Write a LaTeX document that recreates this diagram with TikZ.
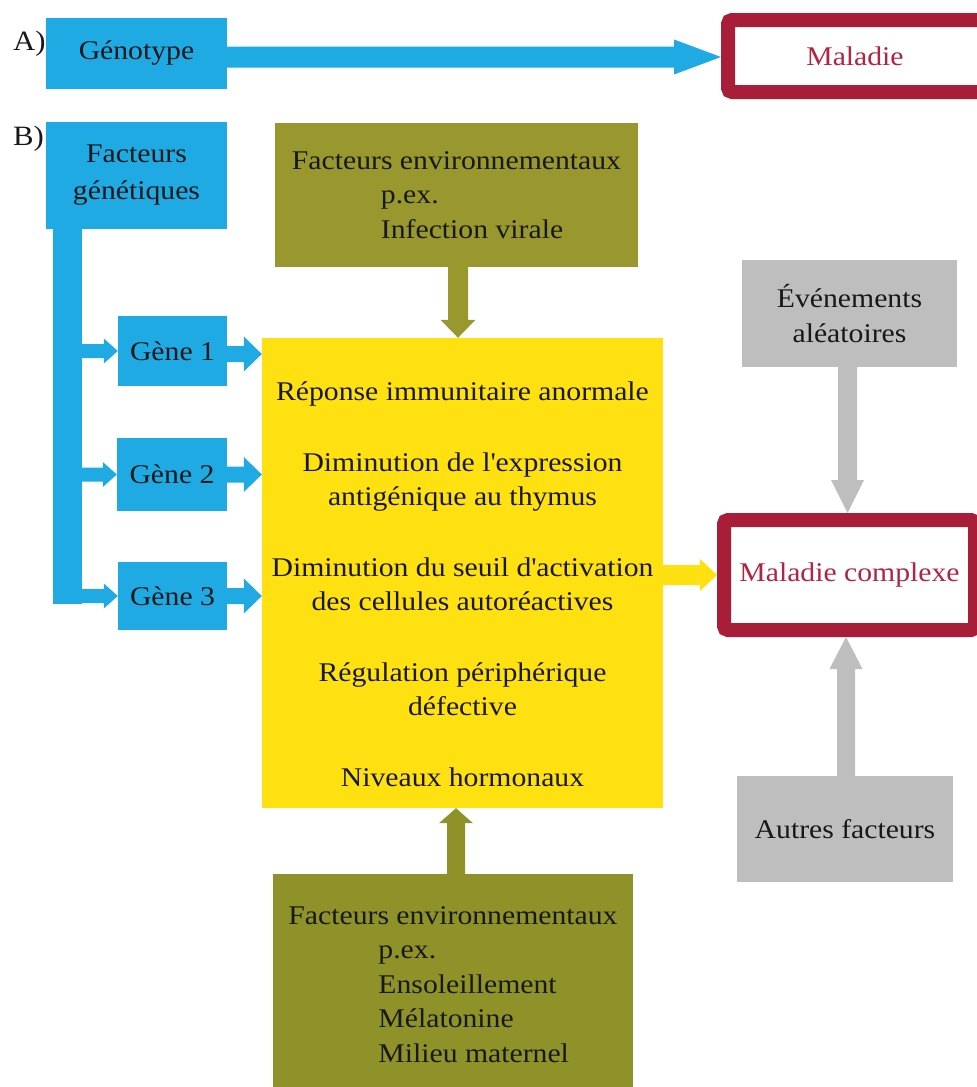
\documentclass[tikz,border=0pt]{standalone}
\usepackage{fontspec}
\setmainfont{Liberation Serif}[FakeStretch=1.1]
\usetikzlibrary{calc}
\definecolor{cblue}{RGB}{32,170,228}
\definecolor{colive}{RGB}{152,152,46}
\definecolor{colive2}{RGB}{142,146,40}
\definecolor{cyellow}{RGB}{255,225,18}
\definecolor{cred}{RGB}{168,30,56}
\definecolor{cgrey}{RGB}{190,190,190}
\definecolor{ctext}{RGB}{24,24,24}
\definecolor{credtext}{RGB}{178,36,66}
% block arrows: style, from, to, shaft half width, head half width, head length
\newcommand\ArR[6]{\fill[#1] let \p1=(#2), \p2=(#3) in
  ({\x1},{\y1+#4}) -- ({\x2-#6},{\y1+#4}) -- ({\x2-#6},{\y1+#5}) -- ({\x2},{\y1})
  -- ({\x2-#6},{\y1-#5}) -- ({\x2-#6},{\y1-#4}) -- ({\x1},{\y1-#4}) -- cycle;}
\newcommand\ArD[6]{\fill[#1] let \p1=(#2), \p2=(#3) in
  ({\x1+#4},{\y1}) -- ({\x1+#4},{\y2+#6}) -- ({\x1+#5},{\y2+#6}) -- ({\x1},{\y2})
  -- ({\x1-#5},{\y2+#6}) -- ({\x1-#4},{\y2+#6}) -- ({\x1-#4},{\y1}) -- cycle;}
\newcommand\ArU[6]{\fill[#1] let \p1=(#2), \p2=(#3) in
  ({\x1+#4},{\y1}) -- ({\x1+#4},{\y2-#6}) -- ({\x1+#5},{\y2-#6}) -- ({\x1},{\y2})
  -- ({\x1-#5},{\y2-#6}) -- ({\x1-#4},{\y2-#6}) -- ({\x1-#4},{\y1}) -- cycle;}
\begin{document}
\begin{tikzpicture}[x=1pt,y=-1pt,
  txt/.style={inner sep=0pt, text=ctext, font=\fontsize{27}{34.5}\selectfont, align=center},
  bluebox/.style={txt, fill=cblue},
  olivebox/.style={txt, fill=colive, align=left},
  greybox/.style={txt, fill=cgrey},
  yellowbox/.style={txt, fill=cyellow},
  redbox/.style={txt, text=credtext, draw=cred, line width=14pt, fill=white, rounded corners=4pt},
  lab/.style={inner sep=0pt, text=ctext, font=\fontsize{28}{34}\selectfont, anchor=base west}]
\useasboundingbox (0,0) rectangle (977,1087);
\clip (0,0) rectangle (977,1087);

% ---- A)
\node[lab] (labA) at (13,50) {A)};
\node[bluebox, minimum width=181pt, minimum height=71pt] (geno) at (136.5,53) {Génotype};
\node[redbox, minimum width=264pt, minimum height=72pt] (mal) at (860,56) {\hspace*{-10pt}Maladie};
\ArR{cblue}{[yshift=-4pt]geno.east}{[yshift=-4pt]geno.east -| mal.west}{10.5pt}{17.5pt}{47pt}

% ---- B)
\node[lab] (labB) at (13,145) {B)};
\node[bluebox, minimum width=181pt, minimum height=107pt, font=\fontsize{27}{37}\selectfont] (fg) at (136.5,175.5) {Facteurs\\génétiques};
\node[bluebox, minimum width=109pt, minimum height=70pt] (g1) at (172.5,351) {Gène 1};
\node[bluebox, minimum width=110pt, minimum height=73pt] (g2) at (172,474.5) {Gène 2};
\node[bluebox, minimum width=109pt, minimum height=68pt] (g3) at (172.5,596) {Gène 3};

\node[olivebox, minimum width=363pt, minimum height=144pt] (env1) at (456.5,195)
  {Facteurs environnementaux\\\hspace*{89pt}p.ex.\\\hspace*{89pt}Infection virale};
\node[yellowbox, minimum width=401pt, minimum height=470pt] (yel) at (462.5,573) {};
\node[txt] (yeltxt) at ([yshift=-11pt]yel.center)
  {Réponse immunitaire anormale\\[36pt]
   Diminution de l\textquotesingle expression\\antigénique au thymus\\[36pt]
   Diminution du seuil d\textquotesingle activation\\des cellules autoréactives\\[36pt]
   Régulation périphérique\\défective\\[36pt]
   Niveaux hormonaux};
\node[olivebox, fill=colive2, minimum width=360pt, minimum height=221pt] (env2) at (453,984.5)
  {Facteurs environnementaux\\\hspace*{90pt}p.ex.\\\hspace*{90pt}Ensoleillement\\\hspace*{90pt}Mélatonine\\\hspace*{90pt}Milieu maternel};

\node[greybox, minimum width=215pt, minimum height=107pt, font=\fontsize{27}{35}\selectfont] (ev) at (849.5,313.5) {Événements\\aléatoires};
\node[redbox, minimum width=251pt, minimum height=110pt] (mc) at (849.5,575) {Maladie complexe};
\node[greybox, minimum width=216pt, minimum height=106pt] (au) at (845,829) {Autres facteurs};

% bus from genetic factors
\coordinate (busTop) at (67.5,229);
\coordinate (busBot) at (67.5,604);
\fill[cblue] ([xshift=-14.5pt]busTop) rectangle ([xshift=14.5pt]busBot);
\ArR{cblue}{busTop |- g1.west}{g1.west}{7pt}{12.5pt}{14pt}
\ArR{cblue}{busTop |- g2.west}{g2.west}{7pt}{12.5pt}{14pt}
\ArR{cblue}{busTop |- g3.west}{g3.west}{7pt}{12.5pt}{14pt}
% genes to yellow box
\ArR{cblue}{[yshift=-3pt]g1.east}{[yshift=-3pt]g1.east -| yel.west}{8pt}{17.5pt}{18pt}
\ArR{cblue}{g2.east}{g2.east -| yel.west}{8pt}{17.5pt}{18pt}
\ArR{cblue}{g3.east}{g3.east -| yel.west}{8pt}{17.5pt}{18pt}
% environment arrows
\ArD{colive}{[xshift=1.5pt]env1.south}{[xshift=1.5pt]env1.south |- yel.north}{10pt}{17.5pt}{18pt}
\ArU{colive2}{[xshift=3pt]env2.north}{[xshift=3pt]env2.north |- yel.south}{9pt}{17pt}{15pt}
% yellow to complex disease
\ArR{cyellow}{[yshift=-2pt]yel.east}{[yshift=-2pt]yel.east -| mc.west}{10pt}{16pt}{17pt}
% grey arrows
\ArD{cgrey}{[xshift=-2pt]ev.south}{[xshift=-2pt]ev.south |- mc.north}{9.5pt}{16.5pt}{33pt}
\ArU{cgrey}{[xshift=1pt]au.north}{[xshift=1pt]au.north |- mc.south}{9pt}{16.5pt}{32pt}
\end{tikzpicture}
\end{document}
